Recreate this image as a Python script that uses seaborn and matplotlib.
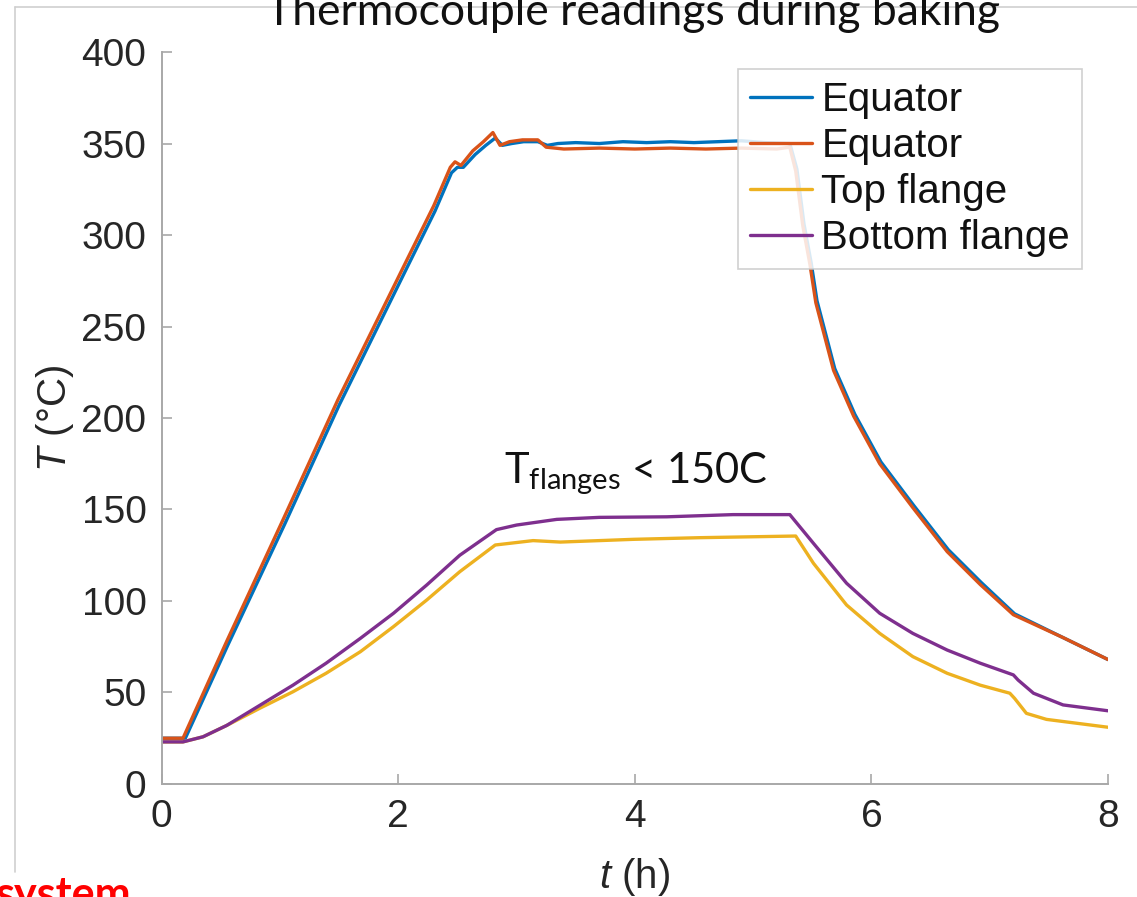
import numpy as np
import pandas as pd
import matplotlib
matplotlib.use("Agg")
import matplotlib.pyplot as plt
from matplotlib.lines import Line2D
import seaborn as sns

# ---------------- data ----------------
eq1_t = [0, 0.20, 0.56, 1.04, 1.50, 2.08, 2.31, 2.45, 2.50, 2.55, 2.65, 2.74, 2.82, 2.88,
         2.96, 3.06, 3.18, 3.26, 3.35, 3.5, 3.7, 3.9, 4.1, 4.3, 4.5, 4.7, 4.9, 5.1, 5.31,
         5.37, 5.43, 5.49, 5.54, 5.69, 5.86, 6.08, 6.36, 6.65, 6.93, 7.21, 7.62, 8.0]
eq1_T = [25, 25, 76, 142, 207, 283, 313, 334, 337, 337, 344, 349, 353, 349,
         350, 351, 351, 349, 350, 350.5, 350, 351, 350.5, 351, 350.5, 351, 351.5, 350.5, 350,
         336, 306, 285, 264, 227, 202, 176, 152, 128, 110, 93, 80, 68]

eq2_t = [0, 0.18, 0.55, 1.03, 1.49, 2.07, 2.30, 2.44, 2.48, 2.53, 2.63, 2.72, 2.80, 2.86,
         2.94, 3.05, 3.18, 3.25, 3.4, 3.7, 4.0, 4.3, 4.6, 4.9, 5.2, 5.31,
         5.36, 5.42, 5.48, 5.53, 5.68, 5.85, 6.07, 6.35, 6.64, 6.92, 7.20, 7.62, 8.0]
eq2_T = [25, 25, 78, 145, 210, 286, 316, 337, 340, 338, 346, 351, 356, 349,
         351, 352, 352, 348, 347, 347.5, 347, 347.5, 347, 347.5, 347, 348,
         335, 305, 284, 263, 226, 201, 175, 151, 127, 109, 92.5, 80, 68]

top_t = [0, 0.18, 0.35, 0.55, 0.83, 1.11, 1.39, 1.68, 1.96, 2.24, 2.52, 2.82, 3.14, 3.37,
         3.99, 4.55, 5.36, 5.51, 5.79, 6.07, 6.35, 6.64, 6.92, 7.17, 7.21, 7.31, 7.48, 8.0]
top_T = [23, 23, 25.8, 32, 41.4, 50.4, 60.5, 72.3, 86, 100.5, 116, 130.6, 133, 132.2,
         133.7, 134.6, 135.5, 120.6, 97.8, 82.3, 69.6, 60.5, 54, 49.6, 46.8, 38.6, 35.3, 31]

bot_t = [0, 0.18, 0.35, 0.55, 0.83, 1.11, 1.39, 1.68, 1.96, 2.24, 2.52, 2.83, 3.0, 3.34,
         3.70, 4.27, 4.83, 5.31, 5.51, 5.79, 6.07, 6.35, 6.64, 6.92, 7.20, 7.24, 7.37, 7.62, 8.0]
bot_T = [23, 23, 25.8, 32, 43, 54, 66, 79.6, 93.3, 108.7, 125, 139, 141.5, 144.6,
         145.7, 146, 147.2, 147.2, 131.5, 109.7, 93.3, 82.3, 73.2, 66, 59.6, 56.8, 49.6, 43.2, 40]

series_labels = ["Equator", "Equator", "Top flange", "Bottom flange"]
series_colors = ["#0072BD", "#D95319", "#EDB120", "#7E2F8E"]
x_ticks = [0, 2, 4, 6, 8]
y_ticks = [0, 50, 100, 150, 200, 250, 300, 350, 400]

# ---------------- style ----------------
sns.set_theme(style="ticks")
plt.rcParams["font.family"] = ["Liberation Sans", "DejaVu Sans"]
plt.rcParams["mathtext.fontset"] = "custom"
plt.rcParams["mathtext.rm"] = "Lato"
plt.rcParams["mathtext.it"] = "Liberation Sans:italic"

fig = plt.figure(figsize=(11.37, 8.97), dpi=100)
ax = fig.add_axes([0.1422, 0.1260, 0.8323, 0.8160])

grey = "#A8A8A8"
data = [(eq1_t, eq1_T), (eq2_t, eq2_T), (top_t, top_T), (bot_t, bot_T)]
for (t, T), lab, col in zip(data, series_labels, series_colors):
    df = pd.DataFrame({"t": t, "T": T})
    sns.lineplot(data=df, x="t", y="T", ax=ax, color=col, lw=2.4, label=lab,
                 estimator=None, sort=False)

ax.set_xlim(0, 8)
ax.set_ylim(0, 400)
ax.set_xticks(x_ticks)
ax.set_yticks(y_ticks)
ax.tick_params(direction="in", length=7, width=1.2, color=grey, labelsize=28,
               labelcolor="#262626", pad=11)
for s in ["top", "right"]:
    ax.spines[s].set_visible(False)
for s in ["left", "bottom"]:
    ax.spines[s].set_color(grey)
    ax.spines[s].set_linewidth(1.4)

ax.set_xlabel("$\\it{t}$ (h)", fontsize=29, color="#262626", labelpad=15)
ax.set_ylabel("$\\it{T}$ (°C)", fontsize=29, color="#262626", labelpad=4)

leg = ax.legend(loc="upper right", bbox_to_anchor=(0.9725, 0.977), fontsize=29,
                frameon=True, fancybox=False, edgecolor="#C8C8C8", framealpha=0.85,
                handlelength=1.55, handletextpad=0.22, labelspacing=0.2,
                borderpad=0.3, borderaxespad=0)
leg.get_frame().set_linewidth(1.2)
for txt in leg.get_texts():
    txt.set_color("#111111")

ax.text(2.89, 164.5, "T$_{\\mathrm{flanges}}$ < 150C", fontsize=30,
        fontfamily="Lato", color="#111111", ha="left", va="baseline")

fig.text(0.557, 1 - 25 / 897, "Thermocouple readings during baking", fontsize=32,
         fontfamily="Lato", color="#111111", ha="center", va="baseline")
fig.text(-0.004, -0.012, "system", fontsize=31, fontfamily="Lato",
         fontweight="bold", color="#FF0000", ha="left", va="baseline")

fig.add_artist(Line2D([15 / 1137, 1.0], [1 - 7 / 897, 1 - 7 / 897],
                      transform=fig.transFigure, color="#CFCFCF", lw=1.2))
fig.add_artist(Line2D([15 / 1137, 15 / 1137], [1 - 7 / 897, 1 - 872 / 897],
                      transform=fig.transFigure, color="#CFCFCF", lw=1.2))

fig.savefig("out.png", dpi=100)
